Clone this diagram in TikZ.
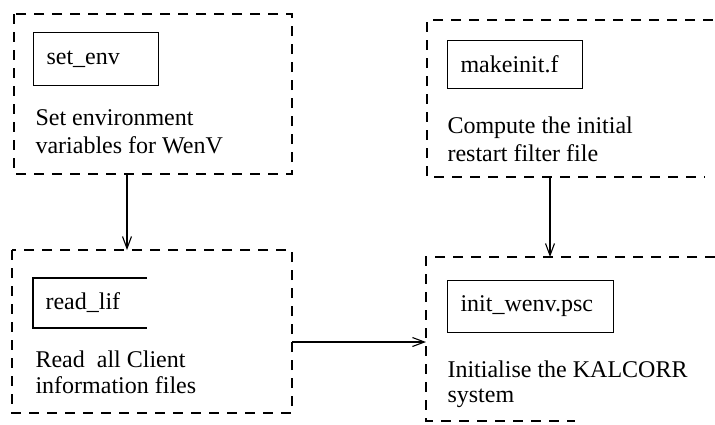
\documentclass[tikz,border=0pt]{standalone}
\usepackage{fontspec}
\setmainfont{Liberation Serif}
\usetikzlibrary{arrows.meta}
\begin{document}
\begin{tikzpicture}[x=1pt,y=-1pt,
  line width=1.1pt,
  group/.style={dash pattern=on 10pt off 8pt, line width=1.1pt},
  prog/.style={draw, anchor=north west, align=left, inner xsep=13pt, inner ysep=0pt},
  body/.style={anchor=base west, inner sep=0pt},
  flow/.style={-{Straight Barb[length=12pt,width=9pt]}, line width=1.1pt},
  font=\fontsize{24}{28}\selectfont]
\useasboundingbox (0,0) rectangle (715,424);

% environment setup group
\coordinate (envNW) at (14,14);
\coordinate (envSE) at (292,174);
\draw[group] (envNW) rectangle (envSE);
\node[prog, text width=99pt, minimum height=53pt] (setenv) at (33,32) {set\_env};
\node[body] (envL1) at (35,125) {Set environment};
\node[body] (envL2) at (35,153) {variables for WenV};
\coordinate (envOut) at (127,174);

% client information group
\coordinate (lifNW) at (12,250);
\coordinate (lifSE) at (292,413);
\draw[group] (lifNW) rectangle (lifSE);
\draw (147,278) -- (33,278) -- (33,328) -- (147,328);
\node[anchor=west, inner sep=0pt] (readlif) at (45,303) {read\_lif};
\node[body] (lifL1) at (35,367) {Read\ \ all Client};
\node[body] (lifL2) at (35,393) {information files};
\coordinate (lifIn) at (127,250);
\coordinate (lifOut) at (292,342);

% restart filter group
\coordinate (mkNW) at (427,20);
\draw[group] (713,20) -- (mkNW) -- (427,177) -- (705,177);
\node[prog, text width=109pt, minimum height=48pt, inner xsep=13pt] (makeinit) at (447,40) {makeinit.f};
\node[body] (mkL1) at (447,133) {Compute the initial};
\node[body] (mkL2) at (447,161) {restart filter file};
\coordinate (mkOut) at (550,177);

% KALCORR initialisation group
\coordinate (kalNW) at (426,257);
\draw[group] (715,257) -- (kalNW) -- (426,421) -- (575,421);
\node[prog, text width=140pt, minimum height=52pt, inner xsep=13pt] (initwenv) at (447,280) {init\_wenv.psc};
\node[body] (kalL1) at (447,377) {Initialise the KALCORR};
\node[body] (kalL2) at (447,402) {system};
\coordinate (kalTop) at (550,257);
\coordinate (kalIn) at (426,342);

% data flow
\draw[flow] (envOut) -- (lifIn);
\draw[flow] (mkOut) -- (kalTop);
\draw[flow] (lifOut) -- (kalIn);
\end{tikzpicture}
\end{document}
